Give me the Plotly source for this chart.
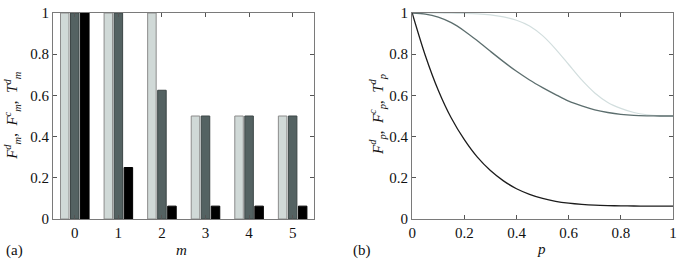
import plotly.graph_objects as go

# ---- data: panel (a) ----
m_vals = [0, 1, 2, 3, 4, 5]
F_d_m = [1.0, 1.0, 1.0, 0.5, 0.5, 0.5]
F_c_m = [1.0, 1.0, 0.625, 0.5, 0.5, 0.5]
T_d_m = [1.0, 0.25, 0.0625, 0.0625, 0.0625, 0.0625]

# ---- data: panel (b) ----
p_vals = [0.0, 0.05, 0.10, 0.15, 0.20, 0.25, 0.30, 0.35, 0.40, 0.45, 0.50,
          0.55, 0.60, 0.65, 0.70, 0.75, 0.80, 0.85, 0.90, 0.95, 1.0]
F_d_p = [1.0, 1.0, 1.0, 0.999, 0.998, 0.996, 0.991, 0.981, 0.965, 0.937, 0.89,
         0.825, 0.75, 0.675, 0.612, 0.566, 0.537, 0.517, 0.506, 0.501, 0.5]
F_c_p = [1.0, 0.995, 0.98, 0.953, 0.913, 0.865, 0.814, 0.764, 0.717, 0.675, 0.638,
         0.604, 0.572, 0.549, 0.530, 0.517, 0.508, 0.503, 0.501, 0.5, 0.5]
T_d_p = [1.0, 0.795, 0.625, 0.49, 0.385, 0.30, 0.235, 0.185, 0.147, 0.12, 0.10,
         0.086, 0.077, 0.071, 0.067, 0.065, 0.064, 0.063, 0.0625, 0.0625, 0.0625]

y_ticks = [0, 0.2, 0.4, 0.6, 0.8, 1]
p_ticks = [0, 0.2, 0.4, 0.6, 0.8, 1]

LIGHT = "#d0d9d7"
DARK = "#546262"
BLACK = "#000000"
FONT = "'Liberation Serif', 'Times New Roman', serif"

fig = go.Figure()
fig.add_trace(go.Bar(x=m_vals, y=F_d_m, marker=dict(color=LIGHT, line=dict(color="#8c8c8c", width=1)),
                     xaxis="x", yaxis="y", showlegend=False))
fig.add_trace(go.Bar(x=m_vals, y=F_c_m, marker=dict(color=DARK, line=dict(color="#3c4646", width=1)),
                     xaxis="x", yaxis="y", showlegend=False))
fig.add_trace(go.Bar(x=m_vals, y=T_d_m, marker=dict(color=BLACK, line=dict(color="#000000", width=1)),
                     xaxis="x", yaxis="y", showlegend=False))

fig.add_trace(go.Scatter(x=p_vals, y=F_d_p, mode="lines",
                         line=dict(color="#d2dede", width=1.2, shape="spline", smoothing=0.8),
                         xaxis="x2", yaxis="y2", showlegend=False))
fig.add_trace(go.Scatter(x=p_vals, y=F_c_p, mode="lines",
                         line=dict(color="#5c6e6e", width=1.3, shape="spline", smoothing=0.8),
                         xaxis="x2", yaxis="y2", showlegend=False))
fig.add_trace(go.Scatter(x=p_vals, y=T_d_p, mode="lines",
                         line=dict(color="#1c1c1c", width=1.3, shape="spline", smoothing=0.8),
                         xaxis="x2", yaxis="y2", showlegend=False))

W, H = 681, 263
L, R, T, B = 53.0, 8.3, 13.3, 44.0
PW = W - L - R
PH = H - T - B
axis_common = dict(showline=True, linecolor="#7a7a7a", linewidth=1.2, mirror="ticks",
                   ticks="inside", ticklen=4, tickcolor="#555555", showgrid=False, zeroline=False,
                   automargin=False,
                   tickfont=dict(family=FONT, size=15, color="#111111"))

fig.update_layout(
    width=W, height=H, autosize=False, margin=dict(l=L, r=R, t=T, b=B, pad=0),
    paper_bgcolor="white", plot_bgcolor="white",
    barmode="group", bargap=0.31, bargroupgap=0.15,
    font=dict(family=FONT, color="#111111"),
    xaxis=dict(domain=[0, (314.3 - L) / PW], range=[-0.5, 5.5], tickvals=m_vals,
               ticktext=[str(v) for v in m_vals], anchor="y", **axis_common),
    yaxis=dict(domain=[0, 1], range=[0, 1], tickvals=y_ticks, anchor="x", **axis_common),
    xaxis2=dict(domain=[(412 - L) / PW, 1], range=[0, 1], tickvals=p_ticks, anchor="y2", **axis_common),
    yaxis2=dict(domain=[0, 1], range=[0, 1], tickvals=y_ticks, anchor="x2", **axis_common),
)


def px_x(v):
    return (v - L) / PW


def px_y(v):
    return (H - B - v) / PH


ann_font = dict(family=FONT, size=15, color="#111111")
fig.add_annotation(x=px_x(15), y=px_y(250), xref="paper", yref="paper", text="(a)",
                   showarrow=False, font=ann_font, xanchor="center", yanchor="middle")
fig.add_annotation(x=px_x(181), y=px_y(250), xref="paper", yref="paper", text="<i>m</i>",
                   showarrow=False, font=ann_font, xanchor="center", yanchor="middle")
fig.add_annotation(x=px_x(362), y=px_y(250), xref="paper", yref="paper", text="(b)",
                   showarrow=False, font=ann_font, xanchor="center", yanchor="middle")
fig.add_annotation(x=px_x(541), y=px_y(249), xref="paper", yref="paper", text="<i>p</i>",
                   showarrow=False, font=ann_font, xanchor="center", yanchor="middle")

ylab_a = ("<i>F</i><sup><i>d</i></sup><sub><i>m</i></sub>,  "
          "<i>F</i><sup><i>c</i></sup><sub><i>m</i></sub>,  "
          "<i>T</i><sup><i>d</i></sup><sub><i>m</i></sub>")
ylab_b = ("<i>F</i><sup><i>d</i></sup><sub><i>p</i></sub>,  "
          "<i>F</i><sup><i>c</i></sup><sub><i>p</i></sub>,  "
          "<i>T</i><sup><i>d</i></sup><sub><i>p</i></sub>")
fig.add_annotation(x=px_x(12), y=px_y(115), xref="paper", yref="paper", text=ylab_a,
                   textangle=-90, showarrow=False, font=ann_font, xanchor="center", yanchor="middle")
fig.add_annotation(x=px_x(377), y=px_y(115), xref="paper", yref="paper", text=ylab_b,
                   textangle=-90, showarrow=False, font=ann_font, xanchor="center", yanchor="middle")

fig.write_html("out.html", config={"responsive": False, "displayModeBar": False},
               post_script="document.body.style.margin='0';document.body.style.padding='0';")
